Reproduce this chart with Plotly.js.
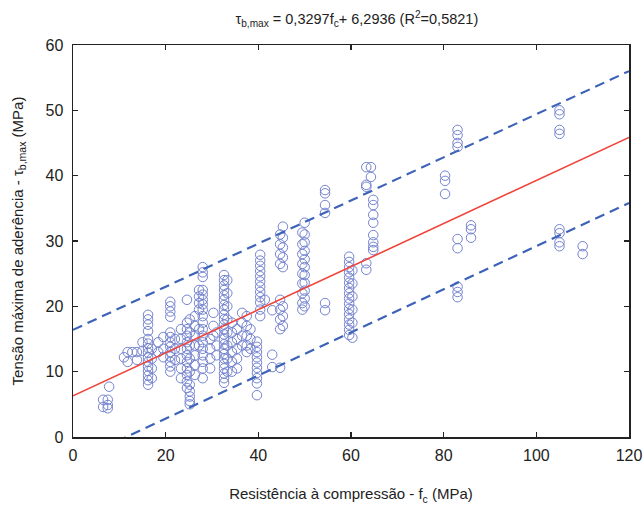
<!DOCTYPE html>
<html>
<head>
<meta charset="utf-8">
<script src="https://cdn.plot.ly/plotly-3.0.1.min.js"></script>
<style>html,body{margin:0;padding:0;background:#fff}#chart{width:643px;height:505px}</style>
</head>
<body>
<div id="chart"></div>
<script>
// Compressive strength groups (fc, MPa) and bond stress values (tau_b,max, MPa)
const fcGroups = [6.5, 7.5, 7.8, 11, 11.8, 12.8, 13.8, 15, 16.2, 17, 18.4, 19.5, 21, 22, 23.3, 24.6, 25.2, 26.3, 27.2, 28,
  29.6, 30.3, 31, 32.6, 33.3, 34.3, 35.4, 36.5, 37.5, 38.3, 39.7, 40.4, 41.4, 43, 44.7, 45.3, 49.5, 50, 54.4, 59.6,
  60.3, 63.3, 64.3, 64.8, 80.3, 83, 85.9, 105, 110];
const tauGroups = [
  [5.7, 4.6],
  [5.7, 4.9, 4.4],
  [7.7],
  [12.2],
  [13.0, 11.5],
  [13.0],
  [13.0, 11.8],
  [13.2, 14.5],
  [18.7, 18.0, 17.2, 16.2, 15.0, 14.3, 13.6, 12.9, 12.2, 11.5, 10.8, 10.1, 9.4, 8.7, 8.0],
  [13.5, 12.0, 10.5, 9.0],
  [14.5, 13.0],
  [13.5, 15.3, 12.2],
  [20.7, 20.0, 19.2, 18.4, 16.0, 15.3, 14.5, 13.8, 13.0, 12.3, 11.5, 10.8, 10.0],
  [15.0, 13.5, 11.8],
  [16.5, 15.0, 13.5, 12.0, 10.5, 9.0],
  [21.0, 17.5, 16.5, 15.5, 14.5, 13.5, 12.5, 11.5, 10.5, 9.5, 8.5, 7.5],
  [18.0, 16.0, 14.0, 12.0, 10.0, 8.0, 7.0, 6.2, 5.5, 5.0],
  [18.5, 17.0, 15.5, 14.0, 12.5, 11.0, 9.5],
  [22.5, 21.5, 20.5, 19.5, 16.5, 14.0],
  [26.0, 25.2, 24.5, 22.5, 21.8, 21.0, 20.3, 19.5, 18.5, 17.5, 16.5, 15.5, 14.5, 13.5, 12.5, 11.5, 10.5, 9.0],
  [15.0, 13.5, 12.0, 10.5],
  [19.0, 17.0, 15.5],
  [16.0, 14.0, 12.5],
  [24.8, 24.0, 23.2, 22.5, 21.7, 21.0, 20.2, 19.5, 18.7, 18.0, 17.2, 16.5, 15.7, 15.0, 14.2, 13.5, 12.7, 12.0, 11.2, 10.5, 9.7, 9.0, 8.3],
  [24.0, 22.0, 20.0, 18.0, 16.0, 14.0, 12.0, 10.0],
  [17.5, 16.0, 14.5, 13.0, 11.5, 10.0],
  [16.5, 15.0, 13.5, 12.0, 10.5],
  [19.0, 17.5, 15.5, 14.0],
  [18.5, 17.0, 15.5, 14.0, 13.0],
  [16.5, 15.0, 13.5],
  [14.6, 13.8, 13.0, 12.2, 11.4, 10.6, 9.8, 9.0, 8.2, 6.4],
  [27.9, 27.0, 26.2, 25.4, 24.6, 23.8, 23.0, 22.2, 21.4, 20.6, 19.5, 18.5],
  [21.0],
  [19.4, 12.6, 10.7],
  [31.0, 29.5, 28.0, 26.5, 21.0, 19.5, 18.0, 16.5, 10.6],
  [32.2, 30.5, 29.0, 27.5, 26.0, 20.0, 18.5, 17.0],
  [31.3, 29.5, 28.0, 26.5, 25.0, 23.5, 22.0, 20.5, 19.5],
  [32.8, 31.0, 29.8, 28.5, 27.2, 26.0, 24.8, 23.6, 22.4, 21.2, 20.0],
  [37.8, 37.3, 35.5, 34.3, 20.5, 19.4],
  [27.6, 26.8, 26.0, 25.2, 24.4, 23.6, 22.8, 22.0, 21.2, 20.4, 19.6, 18.8, 18.0, 17.2, 16.4, 15.6],
  [25.5, 23.5, 21.5, 19.5, 17.5, 15.2],
  [41.3, 38.6, 38.3, 26.6, 25.6],
  [41.3, 39.8],
  [36.3, 35.5, 34.0, 32.8, 30.9, 29.8, 29.1, 28.6],
  [40.0, 39.2, 37.2],
  [47.0, 46.2, 45.0, 44.4, 30.3, 28.9, 23.0, 22.2, 21.4],
  [32.4, 31.8, 30.5],
  [50.0, 49.4, 47.0, 46.4, 31.8, 31.2, 29.8, 29.2],
  [29.2, 28.0]
];
// Regression line and prediction band end points
const lineX = [0, 120];
const fitY = [6.2936, 45.8576];
const upperY = [16.4, 56.0];
const lowerY = [-3.8, 35.8];

const xs = [], ys = [];
fcGroups.forEach((fc, i) => tauGroups[i].forEach(t => { xs.push(fc); ys.push(t); }));

const FONT = 'Liberation Sans, Arial, sans-serif';

const traces = [
  {x: xs, y: ys, type: 'scatter', mode: 'markers',
   marker: {symbol: 'circle-open', size: 9.5, color: '#7483cf', line: {width: 1, color: '#7483cf'}},
   hoverinfo: 'x+y'},
  {x: lineX, y: upperY, type: 'scatter', mode: 'lines', line: {color: '#3d63b8', width: 2.2, dash: '10px,6px'}},
  {x: lineX, y: lowerY, type: 'scatter', mode: 'lines', line: {color: '#3d63b8', width: 2.2, dash: '10px,6px'}},
  {x: lineX, y: fitY, type: 'scatter', mode: 'lines', line: {color: '#f0443a', width: 1.6}}
];

const axisCommon = {
  showgrid: false, zeroline: false, showline: true, linecolor: '#222', linewidth: 1.5,
  mirror: 'allticks', ticks: 'inside', ticklen: 5, tickwidth: 1.2, tickcolor: '#222',
  tickfont: {family: FONT, size: 16, color: '#222'}
};

const layout = {
  width: 643, height: 505,
  margin: {l: 73, r: 14, t: 45, b: 68},
  paper_bgcolor: '#fff', plot_bgcolor: '#fff',
  showlegend: false,
  title: {text: 'τ<sub>b,max</sub> = 0,3297f<sub>c</sub>+ 6,2936 (R<sup>2</sup>=0,5821)',
          x: 0.555, xanchor: 'center', y: 0.962, yanchor: 'middle',
          font: {family: FONT, size: 14.5, color: '#222'}},
  xaxis: Object.assign({}, axisCommon, {
    range: [0, 120], tickvals: [0, 20, 40, 60, 80, 100, 120], ticktext: ['0', '20', '40', '60', '80', '100', '120'],
    ticklabelstandoff: 3,
    title: {text: 'Resistência à compressão - f<sub>c</sub> (MPa)', standoff: 26,
            font: {family: FONT, size: 15, color: '#222'}}
  }),
  yaxis: Object.assign({}, axisCommon, {
    range: [0, 60], tickvals: [0, 10, 20, 30, 40, 50, 60], ticktext: ['0', '10', '20', '30', '40', '50', '60'],
    ticklabelstandoff: 5,
    title: {text: 'Tensão máxima de aderência - τ<sub>b,max</sub> (MPa)', standoff: 18,
            font: {family: FONT, size: 15, color: '#222'}}
  })
};

Plotly.newPlot('chart', traces, layout, {displayModeBar: false, staticPlot: true});
</script>
</body>
</html>
